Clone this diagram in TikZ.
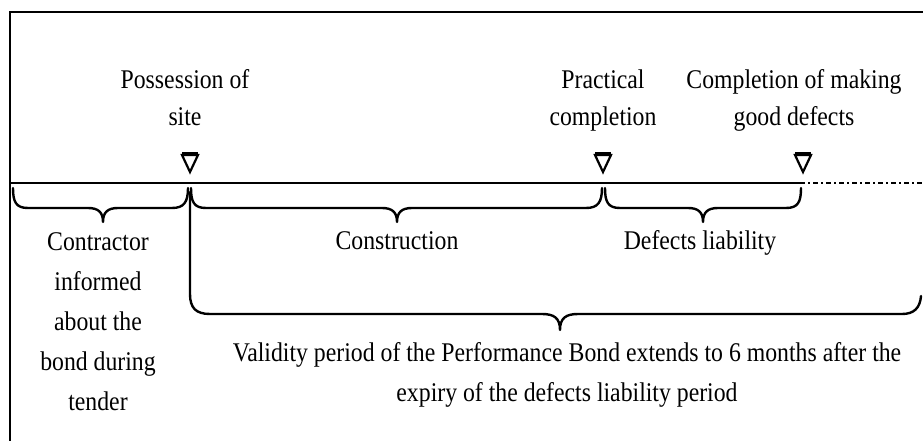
\documentclass[tikz,border=0pt]{standalone}
\usepackage{fontspec}
\setmainfont{Liberation Serif}[FakeStretch=0.88]
\begin{document}
\begin{tikzpicture}[x=1pt,y=-1pt,
  lbl/.style={font={\fontsize{27}{40}\selectfont}, align=center, inner sep=0pt, anchor=base},
  toplbl/.style={font={\fontsize{27}{37}\selectfont}, align=center, inner sep=0pt, anchor=base},
  frame/.style={line width=2.8pt},
  axis/.style={line width=2.8pt},
  bracestyle/.style={line width=2.4pt, line cap=round, line join=round},
  marker/.style={line width=2.2pt, line join=miter}]
\useasboundingbox (0,0) rectangle (923,441);
% frame
\draw[frame] (10,441) -- (10,12) -- (923,12);
% time axis
\coordinate (axL) at (10,183);
\coordinate (axE) at (800,183);
\coordinate (axR) at (923,183);
\draw[axis] (axL) -- (axE);
\draw[line width=2.5pt, dash pattern=on 5pt off 3pt on 2pt off 3pt] (axE) -- (axR);
% markers
\foreach \x in {190,603,803}{
  \draw[marker] (\x-8,155) -- (\x+8,155) -- (\x,172) -- cycle;
  \draw[line width=3.2pt] (\x-8,154) -- (\x+8,154);
}
% top labels
\node[toplbl] (pos) at (185,126) {Possession of\\site};
\node[toplbl] (prac) at (603,126) {Practical\\completion};
\node[toplbl] (comp) at (794,126) {Completion of making\\good defects};
% braces under axis
\draw[bracestyle] (13,188) .. controls (13,202) and (16,208) .. (28,208) -- (88,208)
  .. controls (98,208) and (103,212) .. (103,222)
  .. controls (103,212) and (108,208) .. (118,208) -- (172,208)
  .. controls (184,208) and (188,202) .. (188,188);
\draw[bracestyle] (191,188) .. controls (191,202) and (194,208) .. (206,208) -- (382,208)
  .. controls (392,208) and (397,212) .. (397,222)
  .. controls (397,212) and (402,208) .. (412,208) -- (586,208)
  .. controls (598,208) and (602,202) .. (602,188);
\draw[bracestyle] (605,188) .. controls (605,202) and (608,208) .. (620,208) -- (688,208)
  .. controls (698,208) and (703,212) .. (703,222)
  .. controls (703,212) and (708,208) .. (718,208) -- (786,208)
  .. controls (798,208) and (801,202) .. (801,188);
% long brace
\draw[bracestyle] (190,192) -- (190,294) .. controls (190,308) and (196,314) .. (210,314) -- (542,314)
  .. controls (554,314) and (560,318) .. (560,330)
  .. controls (560,318) and (566,314) .. (578,314) -- (902,314)
  .. controls (914,314) and (920,308) .. (921,296);
% lower labels
\node[lbl] (contr) at (98,410) {Contractor\\informed\\about the\\bond during\\tender};
\node[lbl] (cons) at (397,249) {Construction};
\node[lbl] (dl) at (700,249) {Defects liability};
\node[lbl] (valid) at (567,401) {Validity period of the Performance Bond extends to 6 months after the\\expiry of the defects liability period};
\end{tikzpicture}
\end{document}
